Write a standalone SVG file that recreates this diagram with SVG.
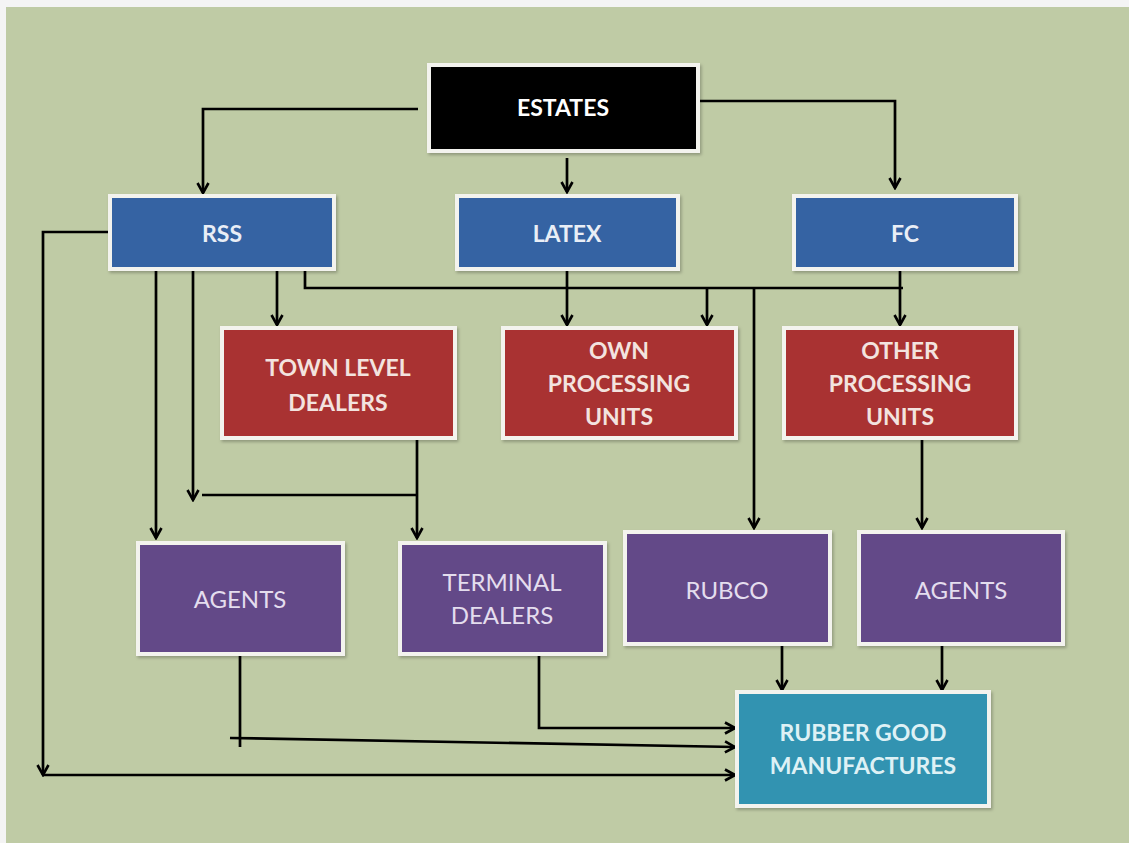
<svg xmlns="http://www.w3.org/2000/svg" width="1129" height="843" viewBox="0 0 1129 843">
  <defs>
    <marker id="arrow" viewBox="0 0 14 14" refX="12" refY="7" markerWidth="14" markerHeight="14" markerUnits="userSpaceOnUse" orient="auto">
      <path d="M2,1.5 L12,7 L2,12.5" fill="none" stroke="#000" stroke-width="2.6" stroke-linejoin="miter"/>
    </marker>
    <filter id="shadow" x="-5%" y="-5%" width="112%" height="115%">
      <feDropShadow dx="1.5" dy="2" stdDeviation="1.5" flood-color="#000" flood-opacity="0.25"/>
    </filter>
    <style>
      .box { stroke: #f3f3ee; stroke-width: 4; filter: url(#shadow); }
      .black { fill: #000000; }
      .blue { fill: #3564a3; }
      .red { fill: #a93333; }
      .purple { fill: #644988; }
      .teal { fill: #3193b1; }
      .lbl { font-family: Lato, "Liberation Sans", sans-serif; text-anchor: middle; dominant-baseline: central; }
      .bold { font-weight: bold; font-size: 23px; }
      .thin { font-weight: normal; font-size: 24px; }
      .w { fill: #ffffff; }
      .wb { fill: #e9eef6; }
      .wr { fill: #f3e3df; }
      .wp { fill: #e4ddee; }
      .wt { fill: #def1f5; }
      .conn path { fill: none; stroke: #000; stroke-width: 2.7; }
    </style>
  </defs>

  <!-- page background -->
  <rect x="0" y="0" width="1129" height="843" fill="#f4f4f4"/>
  <rect x="6" y="7" width="1123" height="836" fill="#bfcba5"/>

  <!-- connectors -->
  <g id="connectors" class="conn">
    <path d="M418,109 H203 V193" marker-end="url(#arrow)"/>
    <path d="M567,158 V192" marker-end="url(#arrow)"/>
    <path d="M700,101 H895 V188" marker-end="url(#arrow)"/>
    <path d="M108,232 H43 V775" marker-end="url(#arrow)"/>
    <path d="M43,775 H735" marker-end="url(#arrow)"/>
    <path d="M156,271 V538" marker-end="url(#arrow)"/>
    <path d="M193,271 V500" marker-end="url(#arrow)"/>
    <path d="M277,271 V325" marker-end="url(#arrow)"/>
    <path d="M305,260 V288 H903"/>
    <path d="M567,271 V325" marker-end="url(#arrow)"/>
    <path d="M707,288 V325" marker-end="url(#arrow)"/>
    <path d="M754,288 V528" marker-end="url(#arrow)"/>
    <path d="M900,271 V325" marker-end="url(#arrow)"/>
    <path d="M417,440 V538" marker-end="url(#arrow)"/>
    <path d="M417,495 H202"/>
    <path d="M922,440 V528" marker-end="url(#arrow)"/>
    <path d="M240,656 V747"/>
    <path d="M230,738 L735,747" marker-end="url(#arrow)"/>
    <path d="M539,656 V728 H735" marker-end="url(#arrow)"/>
    <path d="M782,646 V690" marker-end="url(#arrow)"/>
    <path d="M942,646 V690" marker-end="url(#arrow)"/>
  </g>

  <!-- nodes -->
  <g id="estates">
    <rect class="box black" x="429" y="65" width="269" height="86"/>
    <text class="lbl bold w" x="563" y="107">ESTATES</text>
  </g>
  <g id="rss">
    <rect class="box blue" x="110" y="196" width="224" height="73"/>
    <text class="lbl bold wb" x="222" y="233">RSS</text>
  </g>
  <g id="latex">
    <rect class="box blue" x="457" y="196" width="221" height="73"/>
    <text class="lbl bold wb" x="567" y="233">LATEX</text>
  </g>
  <g id="fc">
    <rect class="box blue" x="794" y="196" width="222" height="73"/>
    <text class="lbl bold wb" x="905" y="233">FC</text>
  </g>
  <g id="town-level-dealers">
    <rect class="box red" x="222" y="328" width="233" height="110"/>
    <text class="lbl bold wr" x="338" y="367">TOWN LEVEL</text>
    <text class="lbl bold wr" x="338" y="402">DEALERS</text>
  </g>
  <g id="own-processing-units">
    <rect class="box red" x="503" y="328" width="233" height="110"/>
    <text class="lbl bold wr" x="619" y="350">OWN</text>
    <text class="lbl bold wr" x="619" y="383">PROCESSING</text>
    <text class="lbl bold wr" x="619" y="416">UNITS</text>
  </g>
  <g id="other-processing-units">
    <rect class="box red" x="784" y="328" width="232" height="110"/>
    <text class="lbl bold wr" x="900" y="350">OTHER</text>
    <text class="lbl bold wr" x="900" y="383">PROCESSING</text>
    <text class="lbl bold wr" x="900" y="416">UNITS</text>
  </g>
  <g id="agents-left">
    <rect class="box purple" x="138" y="543" width="205" height="111"/>
    <text class="lbl thin wp" x="240" y="598">AGENTS</text>
  </g>
  <g id="terminal-dealers">
    <rect class="box purple" x="400" y="543" width="205" height="111"/>
    <text class="lbl thin wp" x="502" y="581">TERMINAL</text>
    <text class="lbl thin wp" x="502" y="614">DEALERS</text>
  </g>
  <g id="rubco">
    <rect class="box purple" x="625" y="532" width="205" height="112"/>
    <text class="lbl thin wp" x="727" y="589">RUBCO</text>
  </g>
  <g id="agents-right">
    <rect class="box purple" x="859" y="532" width="204" height="112"/>
    <text class="lbl thin wp" x="961" y="589">AGENTS</text>
  </g>
  <g id="rubber-good-manufactures">
    <rect class="box teal" x="737" y="692" width="252" height="114"/>
    <text class="lbl bold wt" x="863" y="732">RUBBER GOOD</text>
    <text class="lbl bold wt" x="863" y="765">MANUFACTURES</text>
  </g>
</svg>
